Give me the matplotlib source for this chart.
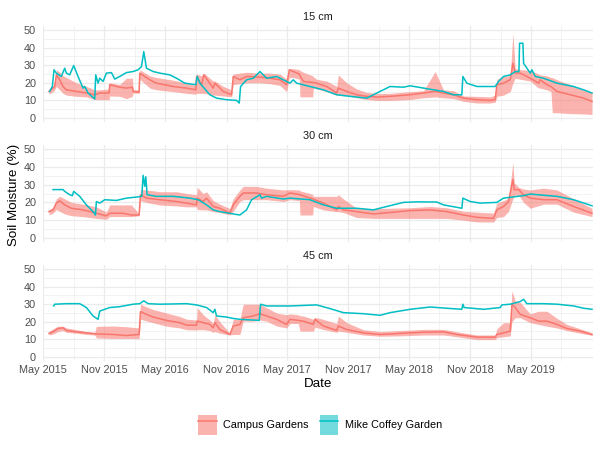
import pandas as pd
import matplotlib
matplotlib.use("Agg")
import matplotlib.pyplot as plt
import matplotlib.dates as mdates
from matplotlib.patches import Patch
from matplotlib.lines import Line2D
from matplotlib.legend_handler import HandlerTuple

plt.rcParams["font.family"] = ["Liberation Sans", "DejaVu Sans"]

# Days since 2015-05-01; Campus Gardens = mean with min/max ribbon, Mike Coffey = single sensor
START = pd.Timestamp("2015-05-01")

# --- 15 cm ---
campus_15_day = [18, 30, 35, 40, 50, 60, 70, 100, 130, 155, 170, 198, 200, 230, 250, 268, 270, 288, 290, 320,
                 340, 390, 430, 458, 460, 475, 482, 510, 515, 540, 565, 570, 590, 610, 650, 680, 710, 730, 738, 750,
                 768, 770, 780, 808, 810, 820, 850, 880, 885, 910, 940, 970, 1000, 1040, 1100, 1140, 1175, 1200, 1230, 1260,
                 1300, 1340, 1355, 1360, 1380, 1400, 1408, 1415, 1430, 1460, 1485, 1490, 1510, 1522, 1526, 1540, 1580, 1620, 1645]
campus_15_mean = [15.1, 17.0, 17.9, 24.5, 21.7, 17.9, 16.0, 15.1, 14.2, 13.2, 14.2, 14.2, 18.9, 17.5, 17.0, 17.5, 15.1, 14.7, 25.5, 21.7,
                  19.8, 17.9, 17.0, 16.0, 23.6, 18.9, 24.5, 17.0, 19.8, 15.1, 13.2, 23.6, 21.7, 23.6, 23.2, 22.6, 21.7, 18.9, 27.4, 26.4,
                  25.0, 24.0, 20.8, 20.2, 20.2, 19.8, 17.9, 14.2, 17.0, 15.1, 13.2, 12.3, 11.9, 12.3, 13.2, 14.2, 15.1, 14.2, 13.2, 11.3,
                  10.4, 10.0, 10.4, 18.9, 19.8, 21.7, 31.1, 25.5, 25.5, 22.6, 19.8, 21.7, 18.9, 17.8, 17.3, 15.1, 13.2, 11.3, 9.4]
campus_15_lo = [13.5, 15, 16, 18, 16, 14, 13, 12.3, 12, 10.5, 10.4, 10.4, 12.5, 12.3, 11, 12.3, 14.2, 14, 22, 17,
                16, 15, 14, 13.5, 14, 14, 14, 13, 13, 12.5, 12, 19, 19.5, 20, 20, 19.5, 18.5, 15, 23, 23,
                22, 12, 12, 12, 17, 16.5, 15, 13, 13, 12.5, 11.5, 10.5, 10, 10, 10.5, 11.5, 12, 11.5, 11, 9.5,
                8.5, 8.5, 9, 12.3, 13, 15, 20, 22.6, 22, 21, 17, 17, 16, 15, 3, 3, 2.5, 2.3, 2]
campus_15_hi = [16.5, 18.5, 20, 27.5, 26, 24, 23, 20, 18, 16, 16, 16.5, 20, 19, 22.6, 22.6, 16, 16, 27.4, 24,
                23, 21.5, 19.8, 18.5, 25, 24, 25.5, 21, 21, 18, 16, 25, 25.5, 26, 25.5, 25.5, 25, 22, 28, 28,
                27.5, 27, 26, 24, 23.5, 22, 21, 18, 24.5, 20, 16.5, 14.5, 14, 14, 15, 15.5, 26.4, 16, 15.5, 12.5,
                12.3, 12, 13, 22, 23.6, 24, 48, 28, 27.5, 27, 25, 24.5, 24, 23, 23, 21.7, 19, 16, 14.7]
mike_15_day = [20, 28, 33, 40, 55, 65, 70, 80, 92, 105, 120, 125, 135, 155, 158, 165, 170, 180, 190, 205,
               215, 230, 250, 270, 285, 295, 302, 310, 330, 350, 380, 400, 425, 458, 462, 470, 500, 520, 550, 580,
               588, 592, 610, 630, 650, 670, 700, 720, 740, 750, 760, 800, 840, 880, 920, 970, 1010, 1040, 1080, 1100,
               1140, 1170, 1200, 1230, 1255, 1258, 1270, 1300, 1355, 1365, 1380, 1400, 1415, 1426, 1428, 1438, 1440, 1460, 1465, 1475,
               1500, 1540, 1590, 1620, 1645]
mike_15_vwc = [15.1, 17.9, 27.4, 25.5, 23.6, 28.3, 25.5, 24.5, 29.8, 23.6, 17.0, 17.9, 14.2, 10.8, 24.5, 19.8, 22.6, 20.8, 25.5, 25.8,
               22.1, 23.6, 25.8, 26.4, 27.4, 29.2, 37.7, 28.3, 26.4, 25.5, 24.5, 22.6, 19.8, 18.9, 23.6, 19.8, 13.2, 11.3, 10.4, 10.0,
               8.5, 17.9, 21.7, 22.6, 26.4, 22.6, 23.6, 21.7, 19.8, 21.7, 19.8, 17.9, 16.0, 13.2, 12.3, 11.3, 15.1, 17.9, 17.5, 18.3,
               17.0, 16.0, 15.1, 13.2, 13.2, 23.6, 19.8, 17.9, 17.9, 20.8, 23.6, 24.5, 26.4, 26.4, 42.5, 42.5, 31.1, 25.5, 27.4, 23.6,
               22.6, 19.8, 17.9, 16.0, 14.2]

# --- 30 cm ---
campus_30_day = [18, 30, 40, 50, 65, 85, 120, 160, 190, 200, 240, 265, 288, 292, 310, 350, 400, 430, 460, 462,
                 480, 490, 510, 530, 560, 570, 590, 600, 640, 670, 720, 740, 768, 770, 800, 808, 810, 840, 880, 885,
                 900, 940, 990, 1040, 1100, 1160, 1210, 1260, 1300, 1350, 1360, 1380, 1395, 1408, 1412, 1425, 1440, 1460, 1500, 1540,
                 1590, 1645]
campus_30_mean = [14.8, 15.8, 19.6, 20.9, 18.6, 16.7, 15.8, 13.9, 12.4, 13.9, 13.9, 12.9, 12.9, 24.3, 22.4, 21.5, 20.5, 19.6, 18.6, 22.4,
                  20.5, 22.4, 17.7, 16.7, 13.9, 18.6, 23.4, 25.3, 25.3, 24.3, 23.4, 25.3, 24.4, 24.3, 22.4, 22.0, 21.8, 19.6, 15.8, 17.7,
                  15.8, 14.8, 13.5, 14.3, 15.4, 15.8, 14.8, 12.9, 11.6, 11.0, 15.8, 17.7, 20.5, 32.9, 27.2, 27.2, 24.3, 22.4, 21.5, 21.5,
                  17.7, 13.9]
campus_30_lo = [13, 14, 16, 15, 13.5, 12.5, 12, 11, 10.5, 12, 12, 12, 12.5, 21, 20, 18.5, 18, 17.5, 17.5, 16,
                15.8, 15.8, 14.8, 14.3, 13, 15, 20.5, 21.5, 21.5, 21.5, 20.5, 21.5, 21, 12.9, 12.9, 13, 17.7, 15.8, 14.8, 14.8,
                14.3, 11.5, 11, 11, 11, 11, 11, 10, 9, 9, 11.5, 12, 15, 22, 24, 24, 20, 16.7, 19, 19,
                14.5, 12]
campus_30_hi = [16, 17, 22, 23.4, 22, 20, 19, 17.5, 14.5, 18.6, 18.6, 18.6, 13.5, 27.2, 27, 26, 26, 25, 24.3, 28.5,
                25, 26, 21, 19, 16.5, 22, 27, 29, 29, 28, 27, 27.2, 27, 26.5, 25, 24.5, 23.4, 23.4, 23.4, 24.3,
                22, 16.7, 16.5, 16.7, 17, 17.7, 17, 15, 14.5, 14, 19.6, 21, 22.4, 42.4, 31, 28.5, 27.5, 27, 28, 27,
                22, 16.7]
mike_30_day = [30, 60, 65, 80, 88, 92, 110, 130, 150, 157, 160, 170, 185, 220, 250, 280, 296, 300, 305, 308,
               312, 340, 390, 440, 465, 490, 510, 530, 570, 590, 610, 625, 650, 655, 670, 720, 740, 800, 840, 880,
               940, 990, 1030, 1080, 1120, 1180, 1200, 1255, 1258, 1280, 1310, 1360, 1380, 1440, 1460, 1500, 1540, 1590, 1645]
mike_30_vwc = [27.2, 27.2, 26.2, 24.3, 23.8, 26.2, 23.4, 18.6, 14.8, 12.9, 20.5, 19.6, 21.5, 21.1, 22.4, 23.0, 23.4, 35.2, 29.1, 34.4,
               24.3, 23.4, 23.4, 22.4, 21.5, 18.6, 15.8, 14.8, 13.5, 12.9, 15.8, 21.5, 24.3, 22.4, 23.4, 21.9, 22.4, 21.5, 18.6, 16.7,
               16.7, 15.8, 17.7, 20.0, 20.3, 20.2, 18.6, 16.7, 22.4, 20.5, 19.6, 20.0, 22.4, 23.8, 24.7, 24.0, 23.4, 21.5, 18.1]

# --- 45 cm ---
campus_45_day = [18, 30, 45, 60, 70, 100, 130, 155, 160, 210, 250, 288, 292, 310, 330, 370, 410, 430, 460, 462,
                 480, 500, 510, 515, 530, 560, 570, 590, 600, 630, 650, 670, 700, 730, 740, 765, 770, 780, 810, 815,
                 840, 880, 885, 910, 960, 1010, 1070, 1140, 1200, 1240, 1300, 1355, 1360, 1380, 1400, 1405, 1415, 1430, 1460, 1485,
                 1510, 1540, 1570, 1610, 1645]
campus_45_mean = [13.4, 14.3, 16.2, 16.6, 15.1, 14.3, 13.7, 13.2, 13.1, 12.8, 12.2, 12.8, 25.8, 24.2, 22.7, 20.8, 19.5, 18.1, 18.1, 20.4,
                  19.5, 18.5, 16.6, 19.5, 15.6, 12.8, 17.6, 18.5, 22.3, 23.3, 24.6, 23.3, 21.4, 18.5, 21.4, 20.8, 20.6, 20.4, 18.5, 21.4,
                  17.6, 15.1, 17.6, 15.6, 13.7, 12.8, 13.4, 14.1, 14.3, 12.8, 11.3, 11.3, 12.8, 13.7, 14.7, 30.0, 28.1, 24.2, 22.3, 20.4,
                  20.4, 18.5, 16.2, 14.7, 12.8]
campus_45_lo = [12.5, 13, 14.5, 15, 14, 13.5, 12.8, 12.5, 10.8, 10.5, 10.5, 10.5, 21.5, 20.5, 19.5, 17.5, 16.5, 15.5, 15.3, 15.5,
                15.5, 15, 14, 14.5, 13.5, 12.5, 12.8, 12.8, 20.4, 20.4, 21, 20.4, 17.6, 16.5, 19, 19, 14.7, 14.7, 14.7, 17,
                15.6, 14, 14.7, 14, 12.5, 11.8, 12, 12.5, 12.5, 11.5, 9.9, 9.9, 11, 11.5, 12, 20, 22.3, 22.3, 19.5, 18.5,
                17.5, 16.5, 15, 13.5, 12.3]
campus_45_hi = [14.5, 16, 17.5, 17.5, 16.5, 15.5, 14.5, 14, 17.4, 17.6, 17.2, 16.5, 30, 28.5, 27, 25, 23, 21.5, 21, 28,
                24, 21, 19, 24, 20, 13.5, 21.4, 21.4, 30, 30, 30, 28, 25, 24, 24.5, 24, 23.5, 23.3, 21.5, 22.5,
                21.4, 19, 23.3, 19.5, 15.5, 14.5, 15, 15.7, 15.7, 14.3, 12.5, 12.5, 16, 19.5, 19.5, 37.6, 32, 31, 24.5, 26,
                26, 22, 18.5, 16, 13.7]
mike_45_day = [32, 35, 70, 110, 130, 150, 165, 170, 185, 200, 230, 270, 290, 302, 315, 350, 430, 460, 490, 510,
               515, 520, 550, 570, 590, 648, 652, 670, 720, 740, 820, 860, 900, 960, 1010, 1040, 1100, 1160, 1210, 1255,
               1258, 1262, 1320, 1370, 1375, 1400, 1430, 1440, 1450, 1500, 1540, 1590, 1620, 1645]
mike_45_vwc = [29.0, 30.0, 30.3, 30.3, 28.1, 23.3, 21.4, 26.1, 27.1, 28.1, 28.6, 30.0, 30.3, 31.9, 30.3, 30.0, 30.3, 29.6, 28.1, 25.2,
               27.1, 23.3, 22.7, 21.9, 21.4, 20.8, 30.0, 29.0, 29.0, 29.0, 29.6, 27.5, 25.2, 24.6, 23.7, 25.2, 27.1, 28.4, 27.7, 27.1,
               30.0, 28.1, 27.1, 28.1, 29.6, 30.0, 31.5, 32.8, 30.3, 30.3, 30.0, 29.0, 27.7, 27.1]

RED = "#F8766D"
TEAL = "#00BFC4"
GRID = "#EBEBEB"
TICK_COL = "#4D4D4D"


def to_dates(days):
    return START + pd.to_timedelta(days, unit="D")


panels = [
    ("15 cm", campus_15_day, campus_15_mean, campus_15_lo, campus_15_hi, mike_15_day, mike_15_vwc),
    ("30 cm", campus_30_day, campus_30_mean, campus_30_lo, campus_30_hi, mike_30_day, mike_30_vwc),
    ("45 cm", campus_45_day, campus_45_mean, campus_45_lo, campus_45_hi, mike_45_day, mike_45_vwc),
]
# panel extents in pixels (top, bottom)
panel_px = [(25.6, 122.4), (144.6, 242.4), (264.6, 361.4)]

W, H = 600, 449
fig = plt.figure(figsize=(6, 4.49), dpi=100)

major = pd.date_range("2015-05-01", "2019-05-01", freq="6MS")
minor = pd.date_range("2015-08-01", "2019-08-01", freq="6MS")

for i, (label, cday, cmean, clo, chi, mday, mvwc) in enumerate(panels):
    top, bot = panel_px[i]
    ax = fig.add_axes([43 / W, 1 - bot / H, 550 / W, (bot - top) / H])
    cd = to_dates(cday)
    ax.fill_between(cd, clo, chi, color=RED, alpha=0.55, lw=0)
    ax.plot(cd, cmean, color=RED, lw=1.1)
    ax.plot(to_dates(mday), mvwc, color=TEAL, lw=1.1)

    ax.set_ylim(-2.5, 52.5)
    ax.set_yticks(range(0, 51, 10))
    ax.set_yticks(range(5, 50, 10), minor=True)
    ax.set_xlim(START, START + pd.Timedelta(days=1648))
    ax.set_xticks(major)
    ax.set_xticks(minor, minor=True)
    ax.xaxis.set_major_formatter(mdates.DateFormatter("%b %Y"))

    ax.grid(which="major", color=GRID, lw=0.9)
    ax.grid(which="minor", color=GRID, lw=0.45)
    ax.set_axisbelow(True)
    for s in ax.spines.values():
        s.set_visible(False)
    ax.tick_params(which="both", length=0, labelsize=7.8, colors=TICK_COL)
    ax.tick_params(axis="y", pad=5)
    ax.tick_params(axis="x", pad=2.5)
    if i < 2:
        ax.tick_params(axis="x", labelbottom=False)

    fig.text(318 / W, 1 - (top - 8.5) / H, label, ha="center", va="center", fontsize=7.8, color="#1A1A1A")

fig.text(318 / W, 1 - 384 / H, "Date", ha="center", va="center", fontsize=9.6)
fig.text(14 / W, 1 - 195 / H, "Soil Moisture (%)", ha="center", va="center", rotation=90, fontsize=9.6)

# legend keys: filled ribbon square with the line drawn across it
handles = [
    (Patch(facecolor=RED, alpha=0.55, edgecolor="none"), Line2D([], [], color=RED, lw=1.1)),
    (Patch(facecolor=TEAL, alpha=0.55, edgecolor="none"), Line2D([], [], color=TEAL, lw=1.1)),
]
fig.legend(handles, ["Campus Gardens", "Mike Coffey Garden"], loc="center",
           bbox_to_anchor=(320 / W, 1 - 425 / H), ncol=2, frameon=False, fontsize=7.8,
           handlelength=1.75, handleheight=2.6, handletextpad=0.6, columnspacing=1.0,
           handler_map={tuple: HandlerTuple(ndivide=1)})

fig.savefig("out.png", dpi=100)
